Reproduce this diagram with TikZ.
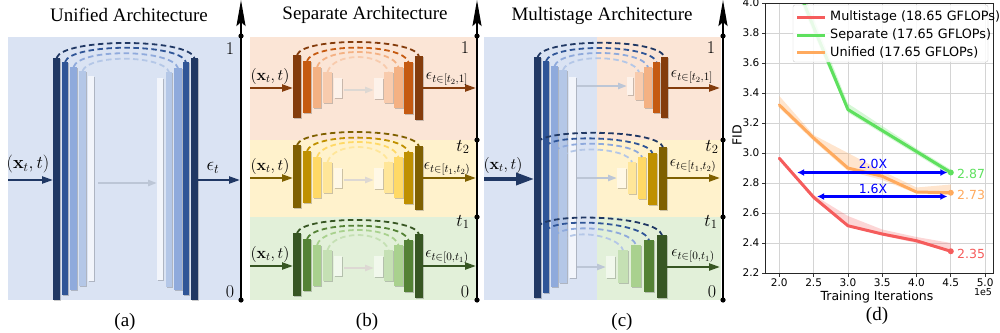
\RequirePackage{fix-cm}
\documentclass[tikz,border=0pt]{standalone}
\usepackage[no-math]{fontspec}
\setmainfont{Liberation Serif}
\newfontfamily\plotfont{DejaVu Sans}
\usetikzlibrary{arrows.meta,shadows,calc}
\definecolor{bBg}{HTML}{DAE3F3}
\definecolor{b1}{HTML}{203864}
\definecolor{b2}{HTML}{2F5597}
\definecolor{b3}{HTML}{8FAADC}
\definecolor{b4}{HTML}{B4C7E7}
\definecolor{b5}{HTML}{F2F5FB}
\definecolor{oBg}{HTML}{FBE5D6}
\definecolor{o1}{HTML}{843C0C}
\definecolor{o2}{HTML}{C55A11}
\definecolor{o3}{HTML}{F4B183}
\definecolor{o4}{HTML}{F8CBAD}
\definecolor{o5}{HTML}{FDF2EA}
\definecolor{yBg}{HTML}{FFF2CC}
\definecolor{y1}{HTML}{7F6000}
\definecolor{y2}{HTML}{BF9000}
\definecolor{y3}{HTML}{FFD966}
\definecolor{y4}{HTML}{FFE699}
\definecolor{y5}{HTML}{FFF8E6}
\definecolor{gBg}{HTML}{E2F0D9}
\definecolor{g1}{HTML}{375623}
\definecolor{g2}{HTML}{548235}
\definecolor{g3}{HTML}{A9D18E}
\definecolor{g4}{HTML}{C5E0B4}
\definecolor{g5}{HTML}{F1F8EC}
\definecolor{midA}{HTML}{BCC6D6}
\definecolor{midB}{HTML}{DDD8D3}
\definecolor{pred}{HTML}{F55C5C}
\definecolor{pgreen}{HTML}{5EE05E}
\definecolor{porange}{HTML}{FFAA5E}
\definecolor{pblue}{HTML}{0000FF}
\newcommand\ubr[6]{\node[ubar,fill=#6,minimum width={((#3)-(#2))*1pt},minimum height={((#5)-(#4))*1pt}] (#1) at ({((#2)+(#3))/2},{((#4)+(#5))/2}) {};}
\newcommand\sarc[5]{\draw[skiparc,draw=#5] (#1) .. controls +(6,-#3) and +(-6,-#4) .. (#2);}
\newcommand\bunet[8]{%
 \ubr{#1L1}{293}{301}{55+#2}{118+#2}{#3}
 \ubr{#1L2}{303}{311}{61+#2}{113+#2}{#4}
 \ubr{#1L3}{313}{321}{67+#2}{108+#2}{#5}
 \ubr{#1L4}{323}{332}{72+#2}{103+#2}{#6}
 \ubr{#1L5}{334}{342}{78+#2}{98+#2}{#7}
 \ubr{#1R5}{374}{383}{78+#2}{99+#2}{#7}
 \ubr{#1R4}{384}{393}{72+#2}{103+#2}{#6}
 \ubr{#1R3}{394}{403}{67+#2}{108+#2}{#5}
 \ubr{#1R2}{404}{413}{62+#2}{114+#2}{#4}
 \ubr{#1R1}{415}{423}{56+#2}{120+#2}{#3}
 \sarc{#1L1.north}{#1R1.north}{18}{18}{#3}
 \sarc{#1L2.north}{#1R2.north}{18}{19}{#4}
 \sarc{#1L3.north}{#1R3.north}{20}{20}{#5}
 \sarc{#1L4.north}{#1R4.north}{20}{20}{#6}
 \coordinate (#1m) at (344,90+#2);
 \draw[midarrB] (#1m) -- (#1m -| #1R5.west);
 \coordinate (#1in) at (250,88+#2);
 \draw[inarr,#3] (#1in) -- (#1in -| #1L1.west);
 \node[mlab] (#1inl) at (270,76+#2) {$(\mathbf{x}_t,t)$};
 \coordinate (#1out) at (476,88+#2);
 \draw[inarr,#3] (#1out -| #1R1.east) -- (#1out);
 \node[mlab] (#1outl) at (447,79+#2) {#8};
}
\begin{document}
\begin{tikzpicture}[x=1pt,y=-1pt,
 ubar/.style={rectangle,inner sep=0pt,outer sep=0pt,draw=none,drop shadow={shadow xshift=1.2pt,shadow yshift=-1.2pt,fill=black,opacity=0.2}},
 skiparc/.style={line width=1.8pt,dash pattern=on 5.5pt off 3.5pt},
 inarr/.style={line width=2.2pt,-{Triangle[length=11pt,width=7pt]}},
 bigarr/.style={line width=3.5pt,-{Triangle[length=18pt,width=12pt]}},
 midarrA/.style={line width=2.2pt,color=midA,-{Triangle[length=9pt,width=6pt]}},
 midarrB/.style={line width=2.2pt,color=midB,-{Triangle[length=9pt,width=6pt]}},
 mlab/.style={font=\fontsize{16}{18}\selectfont,inner sep=0pt},
 axlab/.style={font=\fontsize{18}{20}\selectfont,inner sep=0pt},
 ttl/.style={font=\fontsize{19}{22}\selectfont,inner sep=0pt},
 axisl/.style={line width=2.2pt,-{Stealth[length=26pt,width=9pt,inset=4pt]}},
 pfont/.style={font=\plotfont\fontsize{10.5}{12}\selectfont,inner sep=0pt},
 plotline/.style={line width=3pt,line join=round,line cap=round},
 gridl/.style={black!17,line width=0.7pt}]
\useasboundingbox (0,0) rectangle (1000,332);

% ---------------- (a) ----------------
\fill[bBg] (8,37) rectangle (240,300);
\ubr{aL1}{53}{60}{58}{300}{b1}
\ubr{aL2}{62}{68}{62}{295}{b2}
\ubr{aL3}{70}{77}{67}{290}{b3}
\ubr{aL4}{79}{86}{71}{286}{b4}
\ubr{aL5}{88}{94}{76}{281}{b5}
\ubr{aR5}{157}{163}{78}{280}{b5}
\ubr{aR4}{166}{172}{72}{287}{b4}
\ubr{aR3}{174}{182}{68}{290}{b3}
\ubr{aR2}{183}{189}{62}{295}{b2}
\ubr{aR1}{191}{198}{58}{300}{b1}
\sarc{aL1.north}{aR1.north}{20}{20}{b1}
\sarc{aL2.north}{aR2.north}{19}{19}{b2}
\sarc{aL3.north}{aR3.north}{19}{19}{b3}
\sarc{aL4.north}{aR4.north}{17}{17}{b4}
\coordinate (amid) at (98,183);
\draw[midarrA] (amid) -- (amid -| aR5.west);
\coordinate (ain) at (8,180);
\draw[inarr,b1] (ain) -- (ain -| aL1.west);
\node[mlab,font=\fontsize{18}{20}\selectfont] (ainl) at (28,164) {$(\mathbf{x}_t,t)$};
\coordinate (aout) at (240,180);
\draw[inarr,b1] (aout -| aR1.east) -- (aout);
\node[mlab,font=\fontsize{19}{20}\selectfont] (aoutl) at (213,168) {$\epsilon_t$};
\coordinate (aA0) at (241,300);
\coordinate (aA1) at (241,36);
\coordinate (aAt) at (241,0);
\draw[axisl] (aA0) -- (aAt);
\fill (aA0) circle (2.6);
\fill (aA1) circle (2.6);
\node[axlab] (aA1l) at (230,49) {$1$};
\node[axlab] (aA0l) at (230,292) {$0$};
\node[ttl] (ta) at (129,15) {Unified Architecture};
\node[ttl] (ca) at (125,322) {(a)};

% ---------------- (b) ----------------
\fill[oBg] (250,37) rectangle (477,140);
\fill[yBg] (250,140) rectangle (477,217);
\fill[gBg] (250,217) rectangle (477,300);
\bunet{bT}{0}{o1}{o2}{o3}{o4}{o5}{$\epsilon_{t\in[t_2,1]}$}
\bunet{bM}{90}{y1}{y2}{y3}{y4}{y5}{$\epsilon_{t\in[t_1,t_2)}$}
\bunet{bB}{178}{g1}{g2}{g3}{g4}{g5}{$\epsilon_{t\in[0,t_1)}$}
\coordinate (bA0) at (477,300);
\coordinate (bAa) at (477,217);
\coordinate (bAb) at (477,140);
\coordinate (bA1) at (477,36);
\coordinate (bAt) at (477,0);
\draw[axisl] (bA0) -- (bAt);
\foreach \p in {bA0,bAa,bAb,bA1} \fill (\p) circle (2.6);
\node[axlab] (bA1l) at (465,48) {$1$};
\node[axlab] (bAbl) at (463,147) {$t_2$};
\node[axlab] (bAal) at (463,222) {$t_1$};
\node[axlab] (bA0l) at (465,292) {$0$};
\node[ttl] (tb) at (365,15) {Separate Architecture};
\node[ttl] (cb) at (367,322) {(b)};

% ---------------- (c) ----------------
\fill[bBg] (484,37) rectangle (597,300);
\fill[oBg] (597,37) rectangle (721,140);
\fill[yBg] (597,140) rectangle (721,217);
\fill[gBg] (597,217) rectangle (721,300);
\ubr{cE1}{534}{541}{57}{298}{b1}
\ubr{cE2}{543}{549}{61}{293}{b2}
\ubr{cE3}{551}{558}{66}{287}{b3}
\ubr{cE4}{559}{567}{70}{283}{b4}
\ubr{cE5}{569}{576}{77}{278}{b5}
\ubr{cT5}{627}{633}{77}{95}{o5}
\ubr{cT4}{635}{643}{72}{100}{o4}
\ubr{cT3}{644}{652}{67}{108}{o3}
\ubr{cT2}{653}{660}{62}{113}{o2}
\ubr{cT1}{661}{668}{57}{118}{o1}
\ubr{cM5}{617}{626}{168}{188}{y5}
\ubr{cM4}{628}{636}{162}{194}{y4}
\ubr{cM3}{638}{646}{157}{199}{y3}
\ubr{cM2}{648}{657}{153}{205}{y2}
\ubr{cM1}{659}{667}{147}{210}{y1}
\ubr{cB5}{606}{615}{256}{278}{g5}
\ubr{cB4}{618}{628}{250}{283}{g4}
\ubr{cB3}{631}{641}{245}{287}{g3}
\ubr{cB2}{644}{654}{240}{292}{g2}
\ubr{cB1}{657}{667}{235}{298}{g1}
\sarc{cE1.north}{cT1.north}{19}{19}{b1}
\sarc{cE2.north}{cT2.north}{18}{18}{b2}
\sarc{cE3.north}{cT3.north}{18}{18}{b3}
\sarc{cE4.north}{cT4.north}{17}{17}{b4}
\coordinate (cm1) at (538,142);
\coordinate (cm2) at (546,146);
\coordinate (cm3) at (555,151);
\coordinate (cm4) at (563,156);
\sarc{cm1}{cM1.north}{13}{18}{b1}
\sarc{cm2}{cM2.north}{12}{17}{b2}
\sarc{cm3}{cM3.north}{11}{16}{b3}
\sarc{cm4}{cM4.north}{10}{15}{b4}
\coordinate (cb1) at (538,227);
\coordinate (cb2) at (546,231);
\coordinate (cb3) at (555,236);
\coordinate (cb4) at (563,241);
\sarc{cb1}{cB1.north}{15}{20}{b1}
\sarc{cb2}{cB2.north}{14}{19}{b2}
\sarc{cb3}{cB3.north}{13}{18}{b3}
\sarc{cb4}{cB4.north}{12}{16}{b4}
\draw[midarrA] ([xshift=1pt]cE5.east |- cT5.west) -- (cT5.west);
\draw[midarrA] ([xshift=1pt]cE5.east |- cM5.west) -- (cM5.west);
\draw[midarrA] ([xshift=1pt]cE5.east |- cB5.west) -- (cB5.west);
\coordinate (cTo) at (720,88);
\coordinate (cMo) at (720,178);
\coordinate (cBo) at (720,267);
\draw[inarr,o1] (cTo -| cT1.east) -- (cTo);
\draw[inarr,y1] (cMo -| cM1.east) -- (cMo);
\draw[inarr,g1] (cBo -| cB1.east) -- (cBo);
\coordinate (cin) at (484,179);
\draw[bigarr,b1] (cin) -- (cin -| cE1.west);
\node[mlab] (cinl) at (503,165) {$(\mathbf{x}_t,t)$};
\node[mlab] (cTol) at (692,77) {$\epsilon_{t\in[t_2,1]}$};
\node[mlab] (cMol) at (693,166) {$\epsilon_{t\in[t_1,t_2)}$};
\node[mlab] (cBol) at (693,256) {$\epsilon_{t\in[0,t_1)}$};
\coordinate (cA0) at (723,300);
\coordinate (cAa) at (723,217);
\coordinate (cAb) at (723,140);
\coordinate (cA1) at (723,36);
\coordinate (cAt) at (723,0);
\draw[axisl] (cA0) -- (cAt);
\foreach \p in {cA0,cAa,cAb,cA1} \fill (\p) circle (2.6);
\node[axlab] (cA1l) at (711,48) {$1$};
\node[axlab] (cAbl) at (712,147) {$t_2$};
\node[axlab] (cAal) at (711,222) {$t_1$};
\node[axlab] (cA0l) at (712,292) {$0$};
\node[ttl] (tc) at (602,16) {Multistage Architecture};
\node[ttl] (cc) at (622,322) {(c)};

% ---------------- (d) ----------------
\begin{scope}[xshift=642.1pt,yshift=-603pt,x=68.6pt,y=150pt]
 \foreach \u in {2.0,2.5,3.0,3.5,4.0,4.5,5.0} {
  \draw[gridl] (\u,2.2) -- (\u,4.0);
  \draw[black!80,line width=0.7pt] (\u,2.2) -- ++(0pt,-3.5pt);
  \node[pfont,anchor=north] at ([yshift=-6pt]\u,2.2) {\u};
 }
 \foreach \v in {2.2,2.4,2.6,2.8,3.0,3.2,3.4,3.6,3.8,4.0} {
  \draw[gridl] (1.7915,\v) -- (5.115,\v);
  \draw[black!80,line width=0.7pt] (1.7915,\v) -- ++(-3.5pt,0pt);
  \node[pfont,anchor=east] at ([xshift=-5.5pt]1.7915,\v) {\v};
 }
 \begin{scope}
  \clip (1.7915,2.2) rectangle (5.115,4.0);
  \fill[pred,opacity=0.25] (2.0,2.97) -- (2.5,2.72) -- (3.0,2.58) -- (3.5,2.49) -- (4.0,2.44) -- (4.5,2.40) -- (4.5,2.34) -- (4.0,2.40) -- (3.5,2.45) -- (3.0,2.51) -- (2.5,2.69) -- (2.0,2.96) -- cycle;
  \fill[pgreen,opacity=0.25] (2.0,4.45) -- (2.5,3.90) -- (3.0,3.33) -- (3.5,3.18) -- (4.0,3.03) -- (4.5,2.89) -- (4.5,2.85) -- (4.0,2.99) -- (3.5,3.13) -- (3.0,3.27) -- (2.5,3.80) -- (2.0,4.35) -- cycle;
  \fill[porange,opacity=0.3] (2.0,3.38) -- (2.5,3.12) -- (3.0,3.00) -- (3.5,2.88) -- (4.0,2.77) -- (4.5,2.79) -- (4.5,2.72) -- (4.0,2.73) -- (3.5,2.82) -- (3.0,2.88) -- (2.5,3.08) -- (2.0,3.30) -- cycle;
  \draw[plotline,pred] plot coordinates {(2.0,2.965) (2.5,2.705) (3.0,2.515) (3.5,2.46) (4.0,2.415) (4.5,2.345)};
  \draw[plotline,pgreen] plot coordinates {(2.0,4.40) (2.5,3.84) (3.0,3.29) (3.5,3.15) (4.0,3.01) (4.5,2.87)};
  \draw[plotline,porange] plot coordinates {(2.0,3.32) (2.5,3.10) (3.0,2.90) (3.5,2.845) (4.0,2.74) (4.5,2.735)};
 \end{scope}
 \fill[pred] (4.5,2.345) circle (3pt);
 \fill[pgreen] (4.5,2.87) circle (3pt);
 \fill[porange] (4.5,2.735) circle (3pt);
 \coordinate (dA1s) at (2.26,2.87);
 \coordinate (dA1e) at (4.45,2.87);
 \coordinate (dA2s) at (2.55,2.71);
 \coordinate (dA2e) at (4.45,2.71);
 \draw[black!85,line width=0.8pt] (1.7915,2.2) rectangle (5.115,4.0);
\end{scope}
\draw[pblue,line width=2.4pt,{Latex[length=7pt,width=7pt]}-{Latex[length=7pt,width=7pt]}] (dA1s) -- (dA1e);
\draw[pblue,line width=2.4pt,{Latex[length=7pt,width=7pt]}-{Latex[length=7pt,width=7pt]}] (dA2s) -- (dA2e);
\node[pfont,font=\plotfont\fontsize{12.5}{14}\selectfont,text=pblue] (d20) at (873,164) {2.0X};
\node[pfont,font=\plotfont\fontsize{12.5}{14}\selectfont,text=pblue] (d16) at (873,189) {1.6X};
\node[pfont,font=\plotfont\fontsize{12.5}{14}\selectfont,text=pgreen,anchor=west] (v287) at (957,174) {2.87};
\node[pfont,font=\plotfont\fontsize{12.5}{14}\selectfont,text=porange,anchor=west] (v273) at (957,195) {2.73};
\node[pfont,font=\plotfont\fontsize{12.5}{14}\selectfont,text=pred,anchor=west] (v235) at (957,254) {2.35};
% legend
\node[draw=black!20,fill=white,fill opacity=0.85,rounded corners=2pt,minimum width=195pt,minimum height=57pt,inner sep=0pt] (leg) at (890.5,33.5) {};
\coordinate (lg1) at (797,17);
\coordinate (lg2) at (797,35);
\coordinate (lg3) at (797,52);
\draw[pred,line width=3pt] (lg1) -- ++(28,0);
\draw[pgreen,line width=3pt] (lg2) -- ++(28,0);
\draw[porange,line width=3pt] (lg3) -- ++(28,0);
\node[pfont,font=\plotfont\fontsize{12.8}{14}\selectfont,anchor=west] (lt1) at (830,17) {Multistage (18.65 GFLOPs)};
\node[pfont,font=\plotfont\fontsize{12.8}{14}\selectfont,anchor=west] (lt2) at (830,35) {Separate (17.65 GFLOPs)};
\node[pfont,font=\plotfont\fontsize{12.8}{14}\selectfont,anchor=west] (lt3) at (830,52) {Unified (17.65 GFLOPs)};
\node[pfont,font=\plotfont\fontsize{12.5}{14}\selectfont,rotate=90] (fid) at (737,135) {FID};
\node[pfont,font=\plotfont\fontsize{12.5}{14}\selectfont] (xlab) at (877,297) {Training Iterations};
\node[pfont,font=\plotfont\fontsize{9.5}{11}\selectfont] (e5) at (983,292) {1e5};
\node[ttl] (cd) at (877,316) {(d)};
\end{tikzpicture}
\end{document}
